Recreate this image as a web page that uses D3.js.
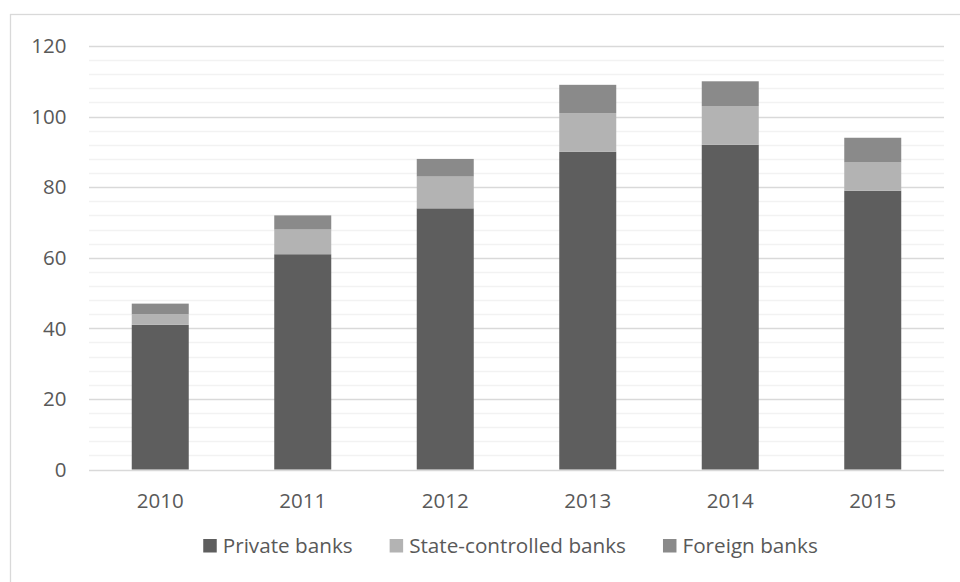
<!DOCTYPE html>
<html>
<head>
<meta charset="utf-8">
<script src="https://cdn.jsdelivr.net/npm/d3@7/dist/d3.min.js"></script>
<style>
  body { margin: 0; background: #fff; }
  svg { display: block; font-family: "Open Sans", sans-serif; }
</style>
</head>
<body>
<svg width="960" height="582"></svg>
<script>
var years = ["2010", "2011", "2012", "2013", "2014", "2015"];
var privateBanks = [41, 61, 74, 90, 92, 79];
var stateBanks = [3, 7, 9, 11, 11, 8];
var foreignBanks = [3, 4, 5, 8, 7, 7];
var seriesNames = ["Private banks", "State-controlled banks", "Foreign banks"];
var seriesColors = ["#5e5e5e", "#b3b3b3", "#8a8a8a"];
var yTicks = [0, 20, 40, 60, 80, 100, 120];

var svg = d3.select("svg");
var plotLeft = 89, plotRight = 944, plotTop = 46, plotBottom = 469.5;

// outer chart border (runs off the page right and bottom)
svg.append("rect")
  .attr("x", 10.5).attr("y", 14.5)
  .attr("width", 970).attr("height", 600)
  .attr("fill", "none")
  .attr("stroke", "#d9d9d9")
  .attr("stroke-width", 1.3);

var x = d3.scaleBand().domain(years).range([plotLeft, plotRight]).paddingInner(0.6).paddingOuter(0.3);
var y = d3.scaleLinear().domain([0, 120]).range([plotBottom, plotTop]);

// minor gridlines every 4
var minor = d3.range(4, 120, 4).filter(function(v) { return v % 20 != 0; });
svg.append("g").selectAll("line")
  .data(minor).enter().append("line")
  .attr("x1", plotLeft).attr("x2", plotRight)
  .attr("y1", function(d) { return Math.round(y(d)) + 0.5; })
  .attr("y2", function(d) { return Math.round(y(d)) + 0.5; })
  .attr("stroke", "#f2f2f2").attr("stroke-width", 1.3);

// major gridlines
svg.append("g").selectAll("line")
  .data(yTicks).enter().append("line")
  .attr("x1", plotLeft).attr("x2", plotRight)
  .attr("y1", function(d) { return Math.round(y(d)) + 0.5; })
  .attr("y2", function(d) { return Math.round(y(d)) + 0.5; })
  .attr("stroke", "#d9d9d9").attr("stroke-width", 1.3);

// stacked data
var table = years.map(function(yr, i) {
  return { year: yr, "Private banks": privateBanks[i], "State-controlled banks": stateBanks[i], "Foreign banks": foreignBanks[i] };
});
var stacked = d3.stack().keys(seriesNames)(table);

svg.append("g").selectAll("g")
  .data(stacked).enter().append("g")
  .attr("fill", function(d, i) { return seriesColors[i]; })
  .selectAll("rect")
  .data(function(d) { return d; }).enter().append("rect")
  .attr("x", function(d) { return x(d.data.year); })
  .attr("width", x.bandwidth())
  .attr("y", function(d) { return y(d[1]); })
  .attr("height", function(d) { return y(d[0]) - y(d[1]); });

// y labels
svg.append("g").selectAll("text")
  .data(yTicks).enter().append("text")
  .attr("x", 66.5)
  .attr("y", function(d) { return y(d); })
  .attr("dy", "0.35em")
  .attr("text-anchor", "end")
  .attr("fill", "#595959")
  .style("font-size", "20.5px")
  .text(function(d) { return d; });

// x labels
svg.append("g").selectAll("text")
  .data(years).enter().append("text")
  .attr("x", function(d) { return x(d) + x.bandwidth() / 2; })
  .attr("y", 508)
  .attr("text-anchor", "middle")
  .attr("fill", "#595959")
  .style("font-size", "20.5px")
  .text(function(d) { return d; });

// legend
var legend = svg.append("g");
var pos = 0;
seriesNames.forEach(function(name, i) {
  var item = legend.append("g").attr("transform", "translate(" + pos + ",0)");
  item.append("rect")
    .attr("x", 0).attr("y", 539)
    .attr("width", 13.5).attr("height", 13.5)
    .attr("fill", seriesColors[i]);
  var t = item.append("text")
    .attr("x", 19.5).attr("y", 552.5)
    .attr("fill", "#595959")
    .style("font-size", "20.7px")
    .text(name);
  pos += 19.5 + t.node().getComputedTextLength() + 37;
});
var legendWidth = pos - 37;
legend.attr("transform", "translate(" + (510.5 - legendWidth / 2) + ",0)");
</script>
</body>
</html>
